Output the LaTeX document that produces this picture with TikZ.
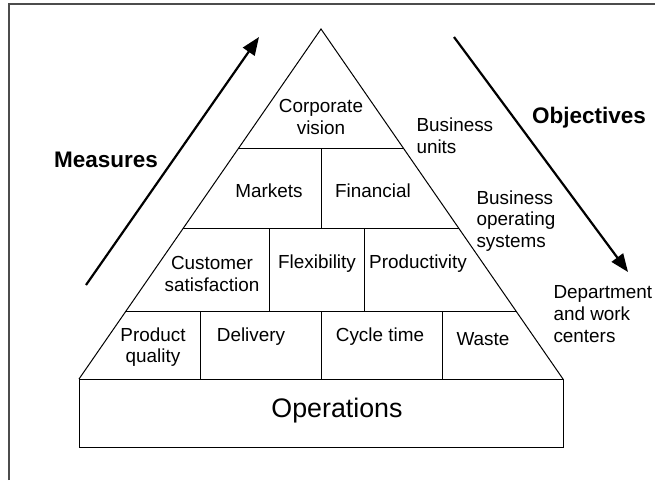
\documentclass[tikz,border=0pt]{standalone}
\usepackage{fontspec}
\setmainfont{Liberation Sans}
\usetikzlibrary{calc,arrows.meta}

\tikzset{
  cell/.style={align=center, inner sep=0pt, font=\fontsize{18.9}{21.7}\selectfont},
  side/.style={align=left, anchor=west, inner sep=0pt, font=\fontsize{18.9}{21.7}\selectfont},
  heading/.style={inner sep=0pt, font=\fontsize{22.5}{26}\selectfont\bfseries},
  bigarrow/.style={line width=2.2pt, -{Triangle[length=18pt,width=14pt]}}
}

\begin{document}
\begin{tikzpicture}[x=1pt, y=-1pt, line width=1pt]
  \useasboundingbox (0,0) rectangle (655,480);
  \draw[gray!60!black, line width=1.6pt] (9,480) |- (655,4);

  % Pyramid
  \coordinate (apex) at (321,29);
  \coordinate (bl) at (79,379);
  \coordinate (br) at (563,379);
  \draw (bl) -- (apex) -- (br);
  \foreach \t in {0.34, 0.5714, 0.8057}
    \draw ($(apex)!\t!(bl)$) -- ($(apex)!\t!(br)$);
  \draw (79,379) rectangle (563,447);
  \foreach \x/\ya/\yb in {321/148/229, 269/229/311, 364/229/311, 200/311/379, 321/311/379, 442/311/379}
    \draw (\x,\ya) -- (\x,\yb);

  % Nodes
  \node[cell] (vision) at (321,117) {Corporate\\vision};
  \node[cell] (markets) at (269,191) {Markets};
  \node[cell] (financial) at (373,191) {Financial};
  \node[cell] (customer) at (212,274) {Customer\\satisfaction};
  \node[cell] (flex) at (317,264) {Flexibility};
  \node[cell] (prod) at (418,264) {Productivity};
  \node[cell] (quality) at (153,347) {Product\\quality};
  \node[cell] (delivery) at (251,337) {Delivery};
  \node[cell] (cycle) at (380,337) {Cycle time};
  \node[cell] (waste) at (483,339) {Waste};
  \node[cell, font=\fontsize{26.8}{30}\selectfont] (ops) at (337,411) {Operations};

  \node[side] (units) at (416,136) {Business\\units};
  \node[side] (systems) at (476,221) {Business\\operating\\systems};
  \node[side] (centers) at (553,314) {Department\\and work\\centers};

  \node[heading] (measures) at (106,160) {Measures};
  \node[heading] (objectives) at (589,118) {Objectives};

  % Arrows
  \coordinate (m0) at (86,285);
  \coordinate (m1) at (259,37);
  \coordinate (o0) at (454,37);
  \coordinate (o1) at (628,272);
  \draw[bigarrow] (m0) -- (m1);
  \draw[bigarrow] (o0) -- (o1);
\end{tikzpicture}
\end{document}
